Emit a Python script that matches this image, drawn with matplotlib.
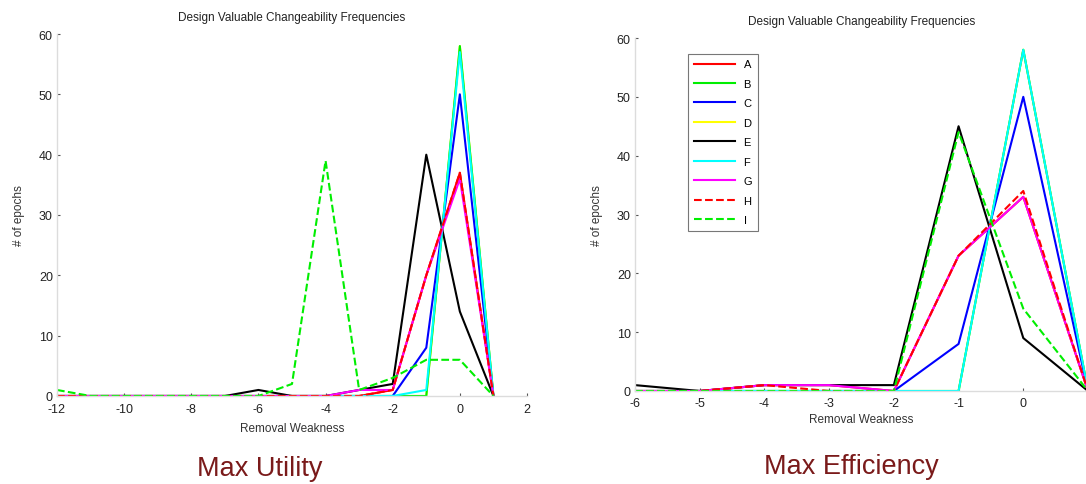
import numpy as np
import matplotlib
matplotlib.use("Agg")
import matplotlib.pyplot as plt

plt.rcParams['font.family'] = ['Liberation Sans', 'DejaVu Sans']
plt.rcParams['axes.unicode_minus'] = False

# Max Utility (left)
x_util = [-12, -11, -10, -9, -8, -7, -6, -5, -4, -3, -2, -1, 0, 1]
util_A = [0, 0, 0, 0, 0, 0, 0, 0, 0, 0, 1, 20, 37, 0]
util_B = [0, 0, 0, 0, 0, 0, 0, 0, 0, 0, 0, 0, 58, 0]
util_C = [0, 0, 0, 0, 0, 0, 0, 0, 0, 0, 0, 8, 50, 0]
util_D = [0, 0, 0, 0, 0, 0, 0, 0, 0, 0, 0, 0, 58, 0]
util_E = [0, 0, 0, 0, 0, 0, 1, 0, 0, 1, 2, 40, 14, 0]
util_F = [0, 0, 0, 0, 0, 0, 0, 0, 0, 0, 0, 1, 57, 0]
util_G = [0, 0, 0, 0, 0, 0, 0, 0, 0, 1, 1, 20, 36, 0]
util_H = [0, 0, 0, 0, 0, 0, 0, 0, 0, 0, 1, 20, 37, 0]
util_I = [1, 0, 0, 0, 0, 0, 0, 2, 39, 1, 3, 6, 6, 0]

# Max Efficiency (right)
x_eff = [-6, -5, -4, -3, -2, -1, 0, 1]
eff_A = [0, 0, 1, 1, 0, 23, 33, 0]
eff_B = [0, 0, 0, 0, 0, 0, 58, 0]
eff_C = [0, 0, 0, 0, 0, 8, 50, 0]
eff_D = [0, 0, 0, 0, 0, 0, 58, 0]
eff_E = [1, 0, 1, 1, 1, 45, 9, 0]
eff_F = [0, 0, 0, 0, 0, 0, 58, 0]
eff_G = [0, 0, 1, 1, 0, 23, 33, 0]
eff_H = [0, 0, 1, 0, 0, 23, 34, 0]
eff_I = [0, 0, 0, 0, 0, 44, 14, 0]

names = ['A', 'B', 'C', 'D', 'E', 'F', 'G', 'H', 'I']
colors = ['#ff0000', '#00ee00', '#0000ff', '#ffff00', '#000000', '#00ffff', '#ff00ff', '#ff0000', '#00ee00']
styles = ['-', '-', '-', '-', '-', '-', '-', '--', '--']
zorders = [2, 2, 2, 1.9, 2, 2, 2, 2, 2]

util = [util_A, util_B, util_C, util_D, util_E, util_F, util_G, util_H, util_I]
eff = [eff_A, eff_B, eff_C, eff_D, eff_E, eff_F, eff_G, eff_H, eff_I]

fig = plt.figure(figsize=(10.86, 4.85), dpi=100)
W, H = 1086.0, 485.0
ax1 = fig.add_axes([57/W, 1-397/H, (527-57)/W, (397-35)/H])
ax2 = fig.add_axes([635/W, 1-392/H, (1088-635)/W, (392-39)/H])

def style_axes(ax, xpad, lpad):
    for s in ['top', 'right']:
        ax.spines[s].set_visible(False)
    for s in ['left', 'bottom']:
        ax.spines[s].set_color('#dcdcdc')
        ax.spines[s].set_linewidth(1)
    ax.tick_params(direction='in', length=2, width=0.8, color='#555555',
                   labelsize=9, labelcolor='#222222', pad=3)
    ax.tick_params(axis='x', pad=xpad)
    ax.set_ylim(0, 60)
    ax.set_yticks([0, 10, 20, 30, 40, 50, 60])
    ax.set_title('Design Valuable Changeability Frequencies', fontsize=8.5,
                 color='#222222', pad=10)
    ax.set_xlabel('Removal Weakness', fontsize=8.5, color='#333333', labelpad=lpad)
    ax.set_ylabel('# of epochs', fontsize=8.5, color='#333333', labelpad=10)

for i in range(9):
    ax1.plot(x_util, util[i], color=colors[i], linestyle=styles[i], linewidth=1.5,
             label=names[i], zorder=zorders[i])
ax1.set_xlim(-12, 2)
ax1.set_xticks(np.arange(-12, 3, 2))
style_axes(ax1, 5, 5)

for i in range(9):
    ax2.plot(x_eff, eff[i], color=colors[i], linestyle=styles[i], linewidth=1.5,
             label=names[i], zorder=zorders[i])
ax2.set_xlim(-6, 1)
ax2.set_xticks([-6, -5, -4, -3, -2, -1, 0])
style_axes(ax2, 4, 3)
leg = ax2.legend(loc='upper left', bbox_to_anchor=(0.117, 0.955), borderaxespad=0,
                 fontsize=8, handlelength=3.7, labelspacing=0.85, fancybox=False,
                 framealpha=1, edgecolor='#777777', borderpad=0.5, handletextpad=0.8)
leg.get_frame().set_linewidth(0.8)

fig.text(260/W, 1-469/H, 'Max Utility', fontsize=19.5, color='#7a1a1a',
         ha='center', va='center')
fig.text(851/W, 1-467/H, 'Max Efficiency', fontsize=19.5, color='#7a1a1a',
         ha='center', va='center')

fig.savefig('out.png', dpi=100)
